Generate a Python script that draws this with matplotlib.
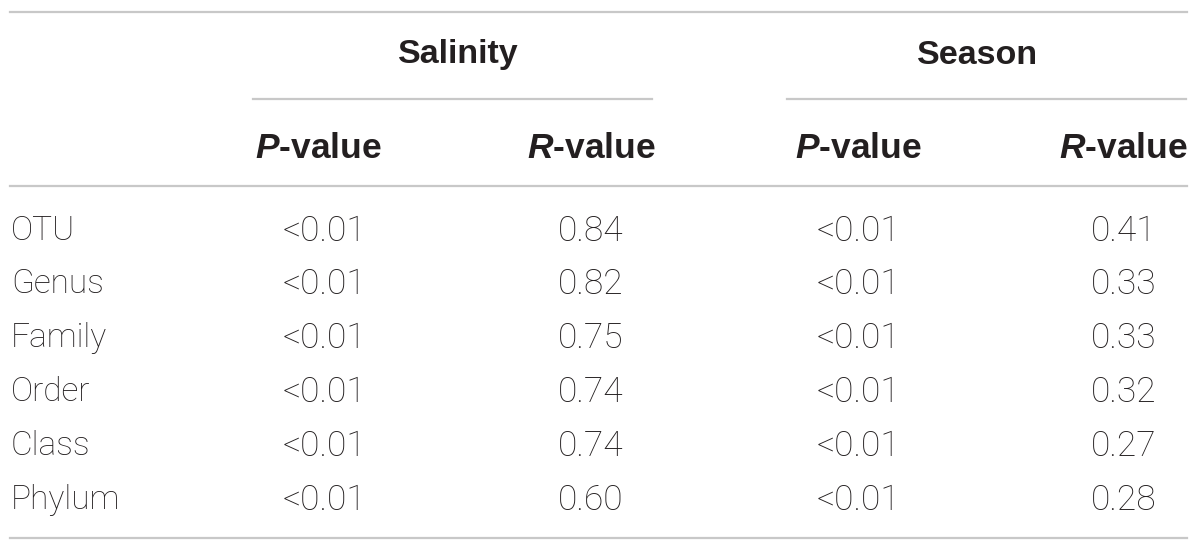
import matplotlib.pyplot as plt
from matplotlib import font_manager

# data
rows = ["OTU", "Genus", "Family", "Order", "Class", "Phylum"]
groups = ["Salinity", "Season"]
sal_p = ["<0.01"] * 6
sal_r = ["0.84", "0.82", "0.75", "0.74", "0.74", "0.60"]
sea_p = ["<0.01"] * 6
sea_r = ["0.41", "0.33", "0.33", "0.32", "0.27", "0.28"]

plt.rcParams["mathtext.fontset"] = "custom"
plt.rcParams["mathtext.bfit"] = "Liberation Sans:bold:italic"

W, H = 1200, 551
fig = plt.figure(figsize=(W / 100, H / 100), dpi=100)
ax = fig.add_axes([0, 0, 1, 1])
ax.set_xlim(0, W)
ax.set_ylim(H, 0)
ax.axis("off")

txt = "#231f20"
line_c = "#c8c8c8"
fs = 25.5

names = {f.name for f in font_manager.fontManager.ttflist}
light_family = ["Roboto", "DejaVu Sans"] if "Roboto" in names else ["DejaVu Sans"]
bold_family = ["Liberation Sans", "DejaVu Sans"]

# rules
for y in [12, 186, 538]:
    ax.plot([10, 1187], [y, y], color=line_c, lw=1.6)
ax.plot([253, 652], [99, 99], color=line_c, lw=1.6)
ax.plot([787, 1186], [99, 99], color=line_c, lw=1.6)

# group headers
for g, xc in zip(groups, [458, 978]):
    ax.text(xc, 55, g, ha="center", va="center", fontsize=24.5,
            fontweight="bold", family=bold_family, color=txt)

# column headers
for xc, letter in zip([318, 591, 858, 1123], ["P", "R", "P", "R"]):
    ax.text(xc, 149, r"$\mathbfit{" + letter + r"}$" + "-value", ha="center",
            va="center", fontsize=25.5, fontweight="bold", family=bold_family,
            color=txt)

row_y = [231, 284, 338, 392, 446, 500]
cols = [(325, sal_p), (591, sal_r), (859, sea_p), (1124, sea_r)]
for i, (name, y) in enumerate(zip(rows, row_y)):
    ax.text(11, y, name, ha="left", va="center", fontsize=24,
            family=light_family, fontweight="light", color=txt)
    for xc, vals in cols:
        ax.text(xc, y, vals[i], ha="center", va="center", fontsize=fs,
                family=light_family, fontweight="light", color=txt)

fig.savefig("out.png", dpi=100)
